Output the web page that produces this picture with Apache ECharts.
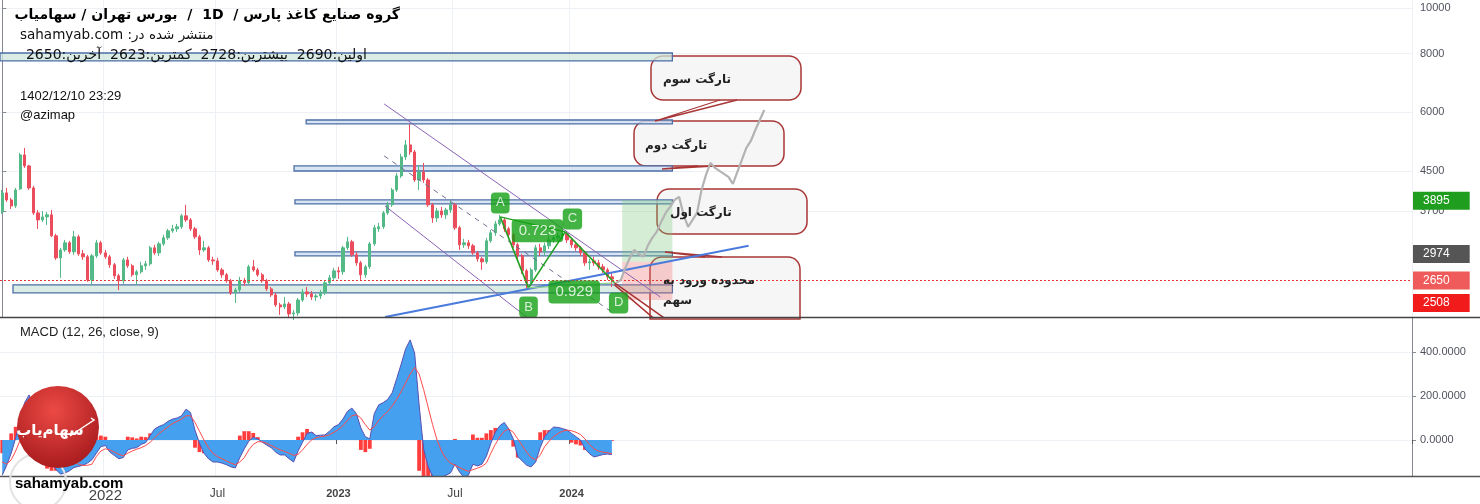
<!DOCTYPE html>
<html><head><meta charset="utf-8">
<script src="https://cdn.jsdelivr.net/npm/echarts@6/dist/echarts.min.js"></script>
<style>html,body{margin:0;padding:0;background:#fff}#c{width:1480px;height:504px}</style>
</head><body><div id="c"></div><script>
// ---------------- DATA ----------------
const startDate = '2021-07-24';   // first weekly bar
const numCats = 315;              // weeks on the time axis (incl. empty future)
// weekly candles: [open, close, low, high]
const ohlc = [
[3683,4042,3647,4101],[4042,3905,3868,4142],[3905,3793,3737,3944],[3793,4101,3755,4142],[4122,4869,4101,4917],
[4869,4614,4568,5038],[4614,4142,4101,4637],[4142,3665,3630,4183],[3665,3541,3389,3718],[3541,3594,3507,3700],
[3594,3630,3456,3683],[3630,3275,3259,3718],[3275,2940,2911,3308],[2940,3057,2666,3088],[3057,3165,3028,3211],
[3165,3028,2999,3196],[3028,3259,2984,3356],[3259,2999,2969,3292],[2999,2955,2911,3057],[2955,2640,2614,2984],
[2640,2969,2576,2999],[2969,3165,2940,3211],[3165,3013,2984,3196],[3013,2955,2926,3057],[2955,2842,2800,2984],
[2842,2693,2653,2869],[2693,2627,2512,2719],[2627,2911,2589,2940],[2911,2828,2800,2955],[2828,2706,2680,2855],
[2706,2746,2576,2772],[2746,2828,2719,2883],[2828,2855,2772,2897],[2855,3088,2828,3119],[3088,3013,2984,3134],
[3013,3149,2969,3180],[3149,3243,3119,3292],[3243,3356,3211,3389],[3356,3389,3324,3456],[3389,3423,3340,3473],
[3423,3612,3389,3647],[3612,3541,3507,3812],[3541,3389,3356,3576],[3389,3259,3227,3423],[3259,3057,2984,3292],
[3057,3088,3028,3196],[3088,2911,2883,3119],[2911,2897,2842,2955],[2897,2772,2746,2940],[2772,2706,2666,2800],
[2706,2627,2602,2732],[2627,2476,2452,2653],[2476,2512,2358,2538],[2512,2627,2488,2680],[2627,2602,2563,2666],
[2602,2814,2576,2842],[2814,2772,2746,2911],[2772,2706,2680,2800],[2706,2627,2602,2732],[2627,2525,2500,2653],
[2525,2452,2428,2550],[2452,2335,2312,2476],[2335,2312,2224,2358],[2312,2346,2289,2428],[2346,2234,2191,2369],
[2234,2245,2169,2278],[2245,2392,2213,2416],[2392,2488,2369,2525],[2488,2464,2428,2550],[2464,2428,2392,2500],
[2428,2440,2381,2464],[2440,2476,2404,2512],[2476,2602,2452,2627],[2602,2666,2576,2706],[2666,2759,2640,2800],
[2759,2746,2653,2814],[2746,3088,2706,3119],[3088,3180,3057,3259],[3180,2984,2955,3211],[2984,2869,2828,3028],
[2869,2706,2640,2897],[2706,2814,2666,2842],[2814,3149,2786,3180],[3149,3406,3119,3456],[3389,3423,3340,3490],
[3423,3665,3389,3700],[3665,3812,3630,3868],[3812,4101,3774,4142],[4101,4393,4062,4458],[4393,4821,4350,4893],
[4821,5113,4750,5238],[5113,4940,4869,5667],[4940,4307,4266,4988],[4307,4480,4101,4637],[4480,4307,4245,4682],
[4307,3812,3774,4350],[3812,3576,3490,3849],[3576,3700,3507,3755],[3700,3630,3576,3774],[3630,3718,3559,3755],
[3718,3812,3665,3905],[3812,3406,3372,3849],[3406,3134,3057,3440],[3134,3165,3088,3227],[3165,3119,3072,3211],
[3119,3013,2984,3149],[3013,2926,2883,3042],[2926,2883,2772,2955],[2883,3196,2855,3243],[3196,3324,3165,3372],
[3324,3473,3275,3524],[3473,3541,3440,3630],[3541,3389,3340,3576],[3389,3292,3243,3423],[3292,3134,3088,3324],
[3134,2969,2926,3165],[2969,2759,2719,2999],[2759,2602,2525,2786],[2602,2772,2563,2800],[2772,3088,2746,3134],
[3088,3028,2969,3149],[3028,3119,2969,3165],[3119,3211,3072,3275],[3211,3243,3165,3308],[3243,3275,3196,3324],
[3275,3308,3227,3372],[3308,3211,3165,3356],[3211,3134,3088,3243],[3134,3088,3042,3180],[3088,3013,2969,3119],
[3013,2869,2828,3042],[2869,2883,2772,2926],[2897,2869,2828,2955],[2869,2814,2772,2911],[2814,2772,2732,2855],
[2772,2680,2640,2800],[2680,2650,2550,2728]
];
// projected path drawn after the last bar
const forecastStart = 137;
const forecast = [2602,2640,2800,2940,3057,2999,2955,3119,3243,3340,3507,3665,3774,3905,3964,3630,3423,3541,3665,4101,
                  4415,4682,4568,4501,4437,4372,4225,4480,4750,5038,5213,5501,5777,6067];
// MACD (12,26,close,9)
const macd = [-160,-115,-60,10,90,170,205,150,60,-10,-60,-100,-135,-155,-150,-140,-125,-120,-115,-105,
-90,-60,-30,-25,-55,-70,-85,-80,-45,-38,-35,-20,-12,20,50,62,70,85,95,100,
110,140,125,45,-15,-60,-85,-100,-100,-105,-112,-122,-127,-80,-40,-5,12,5,-10,-23,
-35,-55,-68,-68,-85,-100,-50,-10,30,36,20,22,23,40,60,70,95,130,145,120,
55,15,5,120,160,170,185,215,280,345,415,455,395,160,-40,-120,-165,-175,-170,-160,
-150,-110,-145,-170,-160,-110,-118,-110,-75,-15,35,65,80,50,5,-75,-95,-115,-122,-100,
-35,15,40,59,57,52,45,30,15,0,-40,-62,-77,-72,-66,-64,-66];
const signal = [-100,-110,-90,-50,0,50,90,110,110,95,70,40,5,-30,-60,-85,-100,-110,-115,-115,
-110,-75,-50,-40,-45,-55,-65,-72,-60,-50,-42,-35,-25,-10,10,30,45,60,75,85,
95,110,110,80,40,0,-35,-60,-75,-85,-95,-105,-112,-100,-80,-45,-20,-8,-8,-15,
-25,-35,-45,-52,-60,-70,-65,-45,-20,0,10,15,18,24,35,48,65,90,110,115,
100,70,45,60,90,110,130,155,185,220,260,300,330,300,230,150,70,0,-50,-85,
-105,-115,-125,-135,-142,-135,-128,-120,-105,-60,-20,15,40,50,35,5,-25,-55,-80,-90,
-70,-30,-5,15,30,40,45,42,35,25,5,-20,-40,-50,-55,-58,-62];
const priceTicks = [10000, 8000, 6000, 4500, 3700];
const macdTicks = [0, 200, 400];
const tagValues = [3895, 2974, 2650, 2508];
const lastPrice = 2650;

// ---------------- annotations (data units: bar index, price) ----------------
const levelRects = [ // [x0, x1, pTop, pBottom]
  [-0.5, 149.5, 8021, 7715], [67.8, 149.5, 5777, 5667], [65.1, 149.5, 4613, 4500],
  [65.3, 149.5, 3905, 3830], [65.3, 149.5, 3028, 2969], [2.4, 149.5, 2576, 2476]
];
const zoneRects = [[138.3, 149.5, 3905, 2883], [138.3, 149.5, 2883, 2392]];
const trendBlue = [[85.4, 2201], [166.5, 3119]];
const chanUpper = [[85.2, 6249], [146.8, 2428]];
const chanLower = [[85.4, 3791], [124.0, 1950]];
const chanMid = [[85.2, 4845], [136.3, 2245]];
const ptA = [111.1, 3594], ptB = [117.4, 2538], ptC = [125.6, 3340], ptD = [136.6, 2602];
const redRays = [[[136.6, 2576], [148.0, 2080]], [[136.6, 2602], [151.0, 2080]]];
const pointLabels = [
  {t:'A', x:111.1, p:3849}, {t:'B', x:117.4, p:2312}, {t:'C', x:127.2, p:3559}, {t:'D', x:137.5, p:2358},
  {t:'0.723', x:119.4, p:3356, big:true}, {t:'0.929', x:127.6, p:2488, big:true}
];

// ---------------- build ----------------
const L = v => Math.log10(v);
const DAY = 86400000;
const d0 = new Date(startDate + 'T00:00:00Z');
const cats = [], tickLabel = {};
for (let i = 0; i < numCats; i++) {
  const d = new Date(d0.getTime() + i * 7 * DAY);
  const e = new Date(d.getTime() + 6 * DAY);
  cats.push(d.toISOString().slice(0, 10));
  let m = null, y = null;
  if (d.getUTCDate() === 1) { m = d.getUTCMonth(); y = d.getUTCFullYear(); }
  else if (e.getUTCMonth() !== d.getUTCMonth()) { m = e.getUTCMonth(); y = e.getUTCFullYear(); }
  if (m !== null && y <= 2024 && (m === 0 || m === 6) && !(y === 2024 && m === 6)) {
    tickLabel[i] = m === 0 ? String(y) : 'Jul';
  }
}
const isTick = (idx) => tickLabel[idx] !== undefined;
const firstYearIdx = Object.keys(tickLabel).map(Number).find(k => tickLabel[k] !== 'Jul');

const hist = macd.map((v, i) => v - signal[i]);
const fcData = cats.map((_, i) => (i >= forecastStart && i < forecastStart + forecast.length) ? L(forecast[i - forecastStart]) : null);

const lineSeries = (pts, style, z) => ({
  type: 'line', xAxisIndex: 1, yAxisIndex: 0, data: pts.map(([x, p]) => [x, L(p)]),
  symbol: 'none', silent: true, lineStyle: style, z: z || 4, animation: false
});

const tagColors = {3895: '#1f9d1f', 2974: '#555555', 2650: '#ef5a5a', 2508: '#f21b1b'};
const tagOffset = {3895: [0, 0], 2974: [0, -3], 2650: [0, 0], 2508: [0, 13]};

const FONT = 'Liberation Sans, DejaVu Sans, sans-serif';
const PFONT = 'DejaVu Sans, sans-serif';
const RLE = '\u202B', PDF = '\u202C';

const series = [
  // price line + tags (kept low so callouts cover the dotted line)
  {
    type: 'line', xAxisIndex: 1, yAxisIndex: 0, data: [[-5, L(3000)]], symbol: 'none', z: 0.5, silent: true,
    markLine: {
      silent: true, symbol: ['none', 'none'], animation: false,
      data: tagValues.map(v => ({
        yAxis: L(v),
        lineStyle: v === lastPrice ? {color: '#e53935', type: [2, 2], width: 1} : {color: 'rgba(0,0,0,0)', width: 1},
        label: {
          show: true, position: 'end', distance: 1, formatter: String(v), color: '#fff',
          backgroundColor: tagColors[v], padding: [3, 20, 3, 10], fontSize: 12, fontFamily: FONT,
          offset: tagOffset[v]
        }
      }))
    }
  },
  // level rectangles and target zones
  {
    type: 'line', xAxisIndex: 1, yAxisIndex: 0, data: [[-5, L(3000)]], symbol: 'none', z: 2, silent: true,
    markArea: {
      silent: true, animation: false,
      data: levelRects.map((r, k) => [
        {coord: [r[0], L(r[2])], itemStyle: {color: (k === 0 || k === 5) ? 'rgba(205,230,218,0.75)' : 'rgba(205,222,240,0.8)', borderColor: '#4d6ea8', borderWidth: 1.3}},
        {coord: [r[1], L(r[3])]}
      ]).concat([
        [{coord: [zoneRects[0][0], L(zoneRects[0][2])], itemStyle: {color: 'rgba(120,200,120,0.32)'}}, {coord: [zoneRects[0][1], L(zoneRects[0][3])]}],
        [{coord: [zoneRects[1][0], L(zoneRects[1][2])], itemStyle: {color: 'rgba(240,110,110,0.32)'}}, {coord: [zoneRects[1][1], L(zoneRects[1][3])]}]
      ])
    }
  },
  {
    type: 'candlestick', xAxisIndex: 0, yAxisIndex: 0, data: ohlc.map(r => r.map(L)), barWidth: '62%', z: 3,
    silent: true,
    itemStyle: {color: '#53b987', color0: '#eb4d5c', borderColor: '#53b987', borderColor0: '#eb4d5c', borderWidth: 1}
  },
  {
    type: 'line', xAxisIndex: 0, yAxisIndex: 0, data: fcData, symbol: 'none', connectNulls: false, z: 5, silent: true,
    lineStyle: {color: '#b3b3b3', width: 2.2}
  },
  lineSeries(chanUpper, {color: '#8a63b5', width: 1}),
  lineSeries(chanLower, {color: '#8a63b5', width: 1}),
  lineSeries(chanMid, {color: '#6f6f8f', width: 1, type: [5, 5]}),
  lineSeries(trendBlue, {color: '#4a7bdc', width: 2}),
  lineSeries([ptA, ptB], {color: '#22a022', width: 1.6}),
  lineSeries([ptB, ptC], {color: '#22a022', width: 1.6}),
  lineSeries([ptC, ptD], {color: '#22a022', width: 1.6}),
  lineSeries([ptA, ptC], {color: '#22a022', width: 1.2}),
  lineSeries([ptB, ptD], {color: '#8fcf8f', width: 1.2}),
  lineSeries(redRays[0], {color: '#a83030', width: 1.5}),
  lineSeries(redRays[1], {color: '#a83030', width: 1.5}),
  {
    type: 'scatter', xAxisIndex: 1, yAxisIndex: 0, symbolSize: 0, z: 8, silent: true,
    data: pointLabels.map(l => ({
      value: [l.x, L(l.p)],
      label: {
        show: true, position: 'inside', formatter: l.t, color: '#fff', fontFamily: FONT,
        fontSize: l.big ? 15 : 13, backgroundColor: '#14a014', borderRadius: 4,
        padding: l.big ? [4, 7] : [4, 5]
      }
    }))
  },
  // MACD pane
  {type: 'bar', xAxisIndex: 2, yAxisIndex: 1, data: hist, barWidth: '85%', itemStyle: {color: '#ff3d3d'}, z: 2, silent: true},
  {type: 'line', xAxisIndex: 2, yAxisIndex: 1, data: macd, symbol: 'none', z: 3, silent: true,
   lineStyle: {color: '#5a4fb0', width: 1}, areaStyle: {color: '#45a0f0', opacity: 1}},
  {type: 'line', xAxisIndex: 2, yAxisIndex: 1, data: signal, symbol: 'none', z: 4, silent: true,
   lineStyle: {color: '#ff4a4a', width: 1}}
];

const txt = (text, x, y, font, extra) => Object.assign({
  type: 'text', z: 20, silent: true,
  style: Object.assign({text, x, y, font, fill: '#131722', align: 'left', verticalAlign: 'middle'}, extra || {})
});

const callouts = [
  {x: 651, y: 56, w: 150, h: 44, t: 'تارگت سوم', tx: 663, ty: 80},
  {x: 634, y: 121, w: 150, h: 45, t: 'تارگت دوم', tx: 645, ty: 146},
  {x: 657, y: 189, w: 150, h: 45, t: 'تارگت اول', tx: 670, ty: 213}
];
const graphic = [];
callouts.forEach(c => {
  graphic.push({type: 'rect', z: 1, silent: true, shape: {x: c.x, y: c.y, width: c.w, height: c.h, r: 12},
    style: {fill: '#f6f6f6', stroke: '#a83636', lineWidth: 1.5}});
  graphic.push(txt(RLE + c.t + PDF, c.tx, c.ty, 'bold 12px ' + PFONT, {fill: '#222'}));
});
graphic.push({type: 'rect', z: 1, silent: true, shape: {x: 650, y: 257, width: 150, height: 62, r: [12, 12, 0, 0]},
  style: {fill: '#f6f6f6', stroke: '#a83636', lineWidth: 1.5}});
graphic.push(txt(RLE + 'محدوده ورود به' + PDF, 663, 281, 'bold 12px ' + PFONT, {fill: '#222'}));
graphic.push(txt(RLE + 'سهم' + PDF, 663, 301, 'bold 12px ' + PFONT, {fill: '#222'}));
// callout pointers
[[[720, 100], [655, 121], [737, 100]], [[698, 166], [662, 169], [714, 166]], [[705, 257], [665, 252], [722, 257]]]
  .forEach(p => graphic.push({type: 'polyline', z: 1.2, silent: true, shape: {points: p}, style: {stroke: '#a83636', lineWidth: 1.3, fill: null}}));

// header texts
graphic.push(txt(RLE + 'گروه صنایع کاغذ پارس /  1D  /  بورس تهران / سهامیاب' + PDF, 400, 15, 'bold 14px ' + PFONT, {align: 'right', fill: '#000'}));
graphic.push(txt(RLE + 'منتشر شده در: sahamyab.com' + PDF, 20, 35, '13.5px ' + PFONT, {fill: '#111'}));
graphic.push(txt(RLE + 'اولین:2690  بیشترین:2728  کمترین:2623  آخرین:2650' + PDF, 367, 55, '14px ' + PFONT, {align: 'right', fill: '#111'}));
graphic.push(txt('1402/12/10 23:29', 20, 96, '13px ' + FONT, {fill: '#111'}));
graphic.push(txt('@azimap', 20, 115, '13px ' + FONT, {fill: '#111'}));
graphic.push(txt('MACD (12, 26, close, 9)', 20, 332, '13px ' + FONT, {fill: '#222'}));
// pane borders
graphic.push({type: 'line', z: 15, silent: true, shape: {x1: 0, y1: 317.5, x2: 1480, y2: 317.5}, style: {stroke: '#444', lineWidth: 1.5}});
graphic.push({type: 'line', z: 15, silent: true, shape: {x1: 0, y1: 476.5, x2: 1480, y2: 476.5}, style: {stroke: '#555', lineWidth: 1.5}});
// logo watermark
graphic.push({type: 'circle', z: 18, silent: true, shape: {cx: 38, cy: 482, r: 28}, style: {fill: 'rgba(255,255,255,0)', stroke: '#e3e3e3', lineWidth: 2}});
graphic.push({type: 'circle', z: 19, silent: true, shape: {cx: 58, cy: 427, r: 41},
  style: {fill: {type: 'radial', x: 0.45, y: 0.3, r: 0.8, colorStops: [{offset: 0, color: '#ec4a44'}, {offset: 1, color: '#a0161a'}]}}});
graphic.push(txt(RLE + 'سهام‌یاب' + PDF, 50, 431, 'bold 15px ' + PFONT, {fill: '#fff', align: 'center'}));
graphic.push({type: 'polyline', z: 21, silent: true, shape: {points: [[70, 436], [82, 428], [94, 420], [91, 418]]}, style: {stroke: '#fff', lineWidth: 1.5, fill: null}});
graphic.push(txt('sahamyab.com', 15, 484, 'bold 15px "Liberation Sans Narrow", "Liberation Sans", sans-serif', {fill: '#000'}));

const axisLabelColor = '#50535e';
const option = {
  animation: false,
  backgroundColor: '#fff',
  grid: [
    {left: 0, right: 68, top: 0, height: 317},
    {left: 0, right: 68, top: 318, height: 158}
  ],
  xAxis: [
    {type: 'category', gridIndex: 0, data: cats, boundaryGap: true, axisLine: {show: false}, axisTick: {show: false},
     axisLabel: {show: false}, splitLine: {show: true, interval: isTick, lineStyle: {color: '#edf0f4'}}},
    {type: 'value', gridIndex: 0, min: -0.5, max: numCats - 0.5, show: false},
    {type: 'category', gridIndex: 1, data: cats, boundaryGap: true,
     axisLine: {show: false},
     axisTick: {show: true, interval: isTick, length: 4, lineStyle: {color: '#555'}},
     splitLine: {show: true, interval: isTick, lineStyle: {color: '#edf0f4'}},
     axisLabel: {show: true, interval: isTick, margin: 12, color: '#4a4a4a', fontFamily: FONT,
       formatter: (v, idx) => {
         const i = cats.indexOf(v); const t = tickLabel[i];
         if (t === undefined) return '';
         if (i === firstYearIdx) return '{a|' + t + '}';
         if (t === 'Jul') return '{j|Jul}';
         return '{b|' + t + '}';
       },
       rich: {a: {fontSize: 15, color: '#444', fontFamily: FONT}, j: {fontSize: 12, color: '#444', fontFamily: FONT},
              b: {fontSize: 11, fontWeight: 'bold', color: '#444', fontFamily: FONT}}}}
  ],
  yAxis: [
    {type: 'value', gridIndex: 0, position: 'right', min: 3.342553, max: 4.017021, scale: true,
     axisLine: {show: true, lineStyle: {color: '#868993'}},
     axisTick: {show: true, customValues: priceTicks.map(L), length: 4, lineStyle: {color: '#868993'}},
     axisLabel: {show: true, customValues: priceTicks.map(L), margin: 8, color: axisLabelColor, fontSize: 11, fontFamily: FONT,
       formatter: v => String(Math.round(Math.pow(10, v)))},
     splitLine: {show: true, lineStyle: {color: '#edf0f4'}}},
    {type: 'value', gridIndex: 1, position: 'right', min: -163.6, max: 554.5,
     axisLine: {show: true, lineStyle: {color: '#868993'}},
     axisTick: {show: true, customValues: macdTicks, length: 4, lineStyle: {color: '#868993'}},
     axisLabel: {show: true, customValues: macdTicks, margin: 8, color: axisLabelColor, fontSize: 11, fontFamily: FONT,
       formatter: v => Number(v).toFixed(4)},
     splitLine: {show: true, lineStyle: {color: '#edf0f4'}}}
  ],
  series,
  graphic
};
const chart = echarts.init(document.getElementById('c'), null, {renderer: 'canvas'});
chart.setOption(option);
</script></body></html>
